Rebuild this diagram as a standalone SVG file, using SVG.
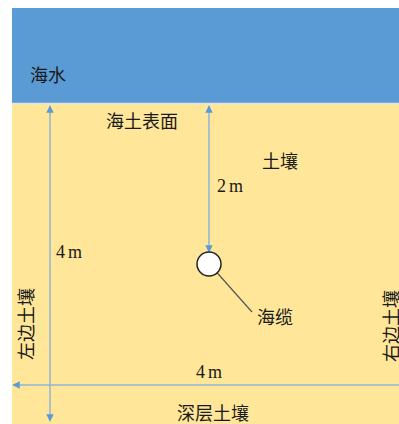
<svg xmlns="http://www.w3.org/2000/svg" width="399" height="424" viewBox="0 0 399 424">
<style>
text{font-family:"Liberation Serif","Noto Sans CJK SC",serif;font-size:18px;fill:#1a1a1a}
.num{font-size:18px;letter-spacing:3px}
.dim{stroke:#8fb4d9;stroke-width:1.5;fill:none}
</style>
<defs>
<marker id="ah" viewBox="0 0 10 10" refX="9" refY="5" markerWidth="5" markerHeight="5" orient="auto-start-reverse">
<path d="M0,0L10,5L0,10z" fill="#5b9bd5"/>
</marker>
<marker id="bk" viewBox="0 0 10 10" refX="9" refY="5" markerWidth="5" markerHeight="5" orient="auto">
<path d="M0,0L10,5L0,10z" fill="#222"/>
</marker>
</defs>
<rect x="0" y="0" width="399" height="424" fill="#fff"/>
<g id="sea"><rect x="12" y="8" width="387" height="95" fill="#5b9bd5"/><text x="30" y="82">海水</text></g>
<g id="soil"><rect x="12" y="103" width="387" height="321" fill="#ffe699"/><line x1="12" y1="103.5" x2="399" y2="103.5" stroke="#dfe3e8" stroke-width="1.5"/></g>
<g id="connectors">
<line class="dim" x1="50" y1="106" x2="50" y2="421" marker-start="url(#ah)" marker-end="url(#ah)"/>
<line class="dim" x1="209" y1="106" x2="209" y2="252" marker-start="url(#ah)" marker-end="url(#ah)"/>
<line class="dim" x1="13" y1="385" x2="399" y2="385" marker-start="url(#ah)"/>
<line x1="252" y1="312" x2="212" y2="267" stroke="#555" stroke-width="1.2" marker-end="url(#bk)"/>
</g>
<g id="cable"><circle cx="209" cy="264" r="12" fill="#fff" stroke="#222" stroke-width="1.5"/><text x="257" y="324">海缆</text></g>
<g id="labels">
<text x="106" y="128">海土表面</text>
<text x="262" y="168">土壤</text>
<text class="num" x="217" y="192">2m</text>
<text class="num" x="56" y="258">4m</text>
<text class="num" x="196" y="378">4m</text>
<text x="177" y="420">深层土壤</text>
<text transform="translate(33,360) rotate(-90)">左边土壤</text>
<text transform="translate(398,362) rotate(-90)">右边土壤</text>
</g>
</svg>
